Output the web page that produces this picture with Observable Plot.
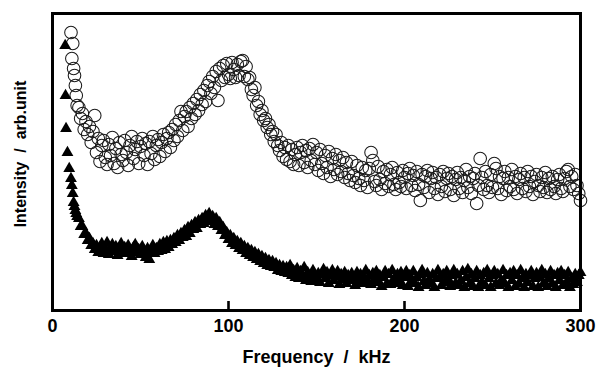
<!DOCTYPE html>
<html>
<head>
<meta charset="utf-8">
<script src="https://cdn.jsdelivr.net/npm/d3@7"></script>
<script src="https://cdn.jsdelivr.net/npm/@observablehq/plot@0.6"></script>
<style>
  html, body { margin: 0; padding: 0; background: #fff; }
  svg { display: block; }
</style>
</head>
<body>
<div id="chart"></div>
<script>
// Frequency grid (kHz)
const freq = [7.2,7.4,7.7,8.5,9.5,10.5,11,11.5,12,12.5,13,13.5,14,
15,16,17,18,19,20,21,22,23,24,
25,26,27,28,29,30,31,32,33,34,
35,36,37,38,39,40,41,42,43,44,
45,46,47,48,49,50,51,52,53,54,
55,56,57,58,59,60,61,62,63,64,
65,66,67,68,69,70,71,72,73,74,
75,76,77,78,79,80,81,82,83,84,
85,86,87,88,89,90,91,92,93,94,
95,96,97,98,99,100,101,102,103,104,
105,106,107,108,109,110,111,112,113,114,
115,116,117,118,119,120,121,122,123,124,
125,126,127,128,129,130,131,132,133,134,
135,136,137,138,139,140,141,142,143,144,
145,146,147,148,149,150,151,152,153,154,
155,156,157,158,159,160,161,162,163,164,
165,166,167,168,169,170,171,172,173,174,
175,176,177,178,179,180,181,182,183,184,
185,186,187,188,189,190,191,192,193,194,
195,196,197,198,199,200,201,202,203,204,
205,206,207,208,209,210,211,212,213,214,
215,216,217,218,219,220,221,222,223,224,
225,226,227,228,229,230,231,232,233,234,
235,236,237,238,239,240,241,242,243,244,
245,246,247,248,249,250,251,252,253,254,
255,256,257,258,259,260,261,262,263,264,
265,266,267,268,269,270,271,272,273,274,
275,276,277,278,279,280,281,282,283,284,
285,286,287,288,289,290,291,292,293,294,
295,296,297,298,299,300];

// Open circles (arb. unit)
const circleIntensity = [null,null,null,null,null,278,252,267,242,235,225,215,205,
203,192,197,181,189,176,184,168,179,195,
158,172,149,165,170,153,146,166,155,173,
147,162,143,168,156,150,170,158,145,165,
174,152,161,169,147,164,172,155,167,146,
169,157,174,151,165,171,154,168,176,159,
172,178,163,181,170,186,174,190,199,180,
194,199,184,203,192,207,196,211,200,216,
206,220,209,225,229,217,234,223,239,210,
242,230,245,233,247,236,232,248,241,233,
246,235,249,250,234,244,231,233,221,215,
223,205,209,196,200,190,192,183,186,176,
179,169,176,165,160,168,154,163,151,165,
149,161,146,156,163,145,158,165,148,160,
143,162,150,166,146,158,140,161,147,137,
155,143,159,134,152,141,156,136,150,139,
153,133,148,137,130,149,135,128,145,132,
125,143,130,140,123,142,158,150,129,125,
144,131,121,139,127,141,124,136,143,126,
121,138,128,124,140,133,122,137,142,125,
135,120,139,126,110,136,123,134,140,118,
132,138,122,133,116,136,124,139,119,132,
137,121,134,115,131,138,122,133,118,130,
141,123,134,117,132,137,107,125,152,133,
121,139,125,118,136,123,147,142,122,134,
116,132,139,120,133,124,141,121,134,117,
131,137,122,133,119,139,124,134,116,129,
136,125,119,133,123,138,118,132,121,134,
124,117,131,136,122,119,132,139,141,124,
134,121,136,125,117,110];

// Filled triangles (arb. unit)
const triangleIntensity = [265,215,182,158,142,132,125,117,108,104,100,97,94,
92,84,84,76,77,70,72,65,67,61,
65,58,63,67,57,62,68,56,61,66,
59,64,55,62,67,58,63,57,65,60,
54,63,66,58,61,56,64,60,53,62,
51,58,65,57,62,59,66,60,68,61,
69,63,70,66,72,68,75,70,77,73,
80,74,83,77,85,81,88,82,90,86,
92,87,95,89,97,91,94,86,92,84,
88,80,83,75,78,71,75,67,72,65,
69,62,67,60,64,57,62,55,60,53,
58,51,56,49,54,47,52,45,50,44,
49,43,47,40,45,39,44,38,43,37,
45,35,40,33,42,32,39,34,43,30,
38,33,29,40,35,31,37,28,36,41,
32,38,27,35,40,30,34,39,26,36,
31,38,27,35,30,37,33,25,38,29,
36,27,33,40,29,35,26,37,31,39,
28,35,24,33,39,27,36,26,40,31,
27,36,30,38,25,33,39,24,35,29,
39,27,33,23,36,40,29,25,37,31,
27,36,23,32,40,33,25,36,28,39,
31,24,35,40,27,36,25,30,39,23,
33,41,27,36,24,32,39,23,35,28,
37,25,40,32,23,35,39,27,36,25,
30,40,27,35,23,37,30,39,24,35,
27,40,32,23,36,28,35,39,24,32,
37,23,33,40,27,36,24,32,39,27,
35,23,37,30,39,25,35,28,38,23,
32,26,36,28,35,38];

const xTicks = [0, 100, 200, 300];
const innerTicks = [100, 200];
const xLabel = "Frequency  /  kHz";
const yLabel = "Intensity  /  arb.unit";

const circles = freq.map((f, i) => ({f, v: circleIntensity[i]})).filter(d => d.v != null);
const triangles = freq.map((f, i) => ({f, v: triangleIntensity[i]})).filter(d => d.v != null);

const font = "'Liberation Sans', Arial, Helvetica, sans-serif";

const plot = Plot.plot({
  width: 599,
  height: 371,
  marginTop: 13,
  marginRight: 19,
  marginBottom: 61,
  marginLeft: 52,
  style: {fontFamily: font, background: "#fff", color: "#000"},
  x: {domain: [0, 300], axis: null},
  y: {domain: [0, 297], axis: null},
  marks: [
    Plot.dot(circles, {x: "f", y: "v", r: 6.3, stroke: "#1a1a1a", strokeWidth: 1.05, fill: "none"}),
    Plot.dot(triangles, {x: "f", y: "v", symbol: "triangle", r: 4.4, fill: "#000", stroke: "none"}),
    Plot.ruleX(innerTicks, {y1: 0, y2: 9, stroke: "#000", strokeWidth: 2.6}),
    Plot.frame({stroke: "#000", strokeWidth: 3}),
    Plot.text(xTicks, {x: d => d, frameAnchor: "bottom", dy: 16, lineAnchor: "middle", textAnchor: "middle", fontSize: 18, fontWeight: "bold", fill: "#000"}),
    Plot.text([xLabel], {frameAnchor: "bottom", dy: 47, lineAnchor: "middle", textAnchor: "middle", fontSize: 18, fontWeight: "bold", fill: "#000", ariaLabel: "xlabel"}),
    Plot.text([yLabel], {frameAnchor: "left", rotate: -90, dx: -32, dy: -8, lineAnchor: "middle", textAnchor: "middle", fontSize: 16, fontWeight: "bold", fill: "#000", ariaLabel: "ylabel"})
  ]
});

plot.querySelectorAll('g[aria-label="xlabel"] text').forEach(t => {
  t.setAttribute("letter-spacing", "1.6");
  t.style.whiteSpace = "pre";
});
plot.querySelectorAll('g[aria-label="ylabel"] text').forEach(t => {
  t.setAttribute("letter-spacing", "1.5");
  t.style.whiteSpace = "pre";
});

document.getElementById("chart").appendChild(plot);
</script>
</body>
</html>
